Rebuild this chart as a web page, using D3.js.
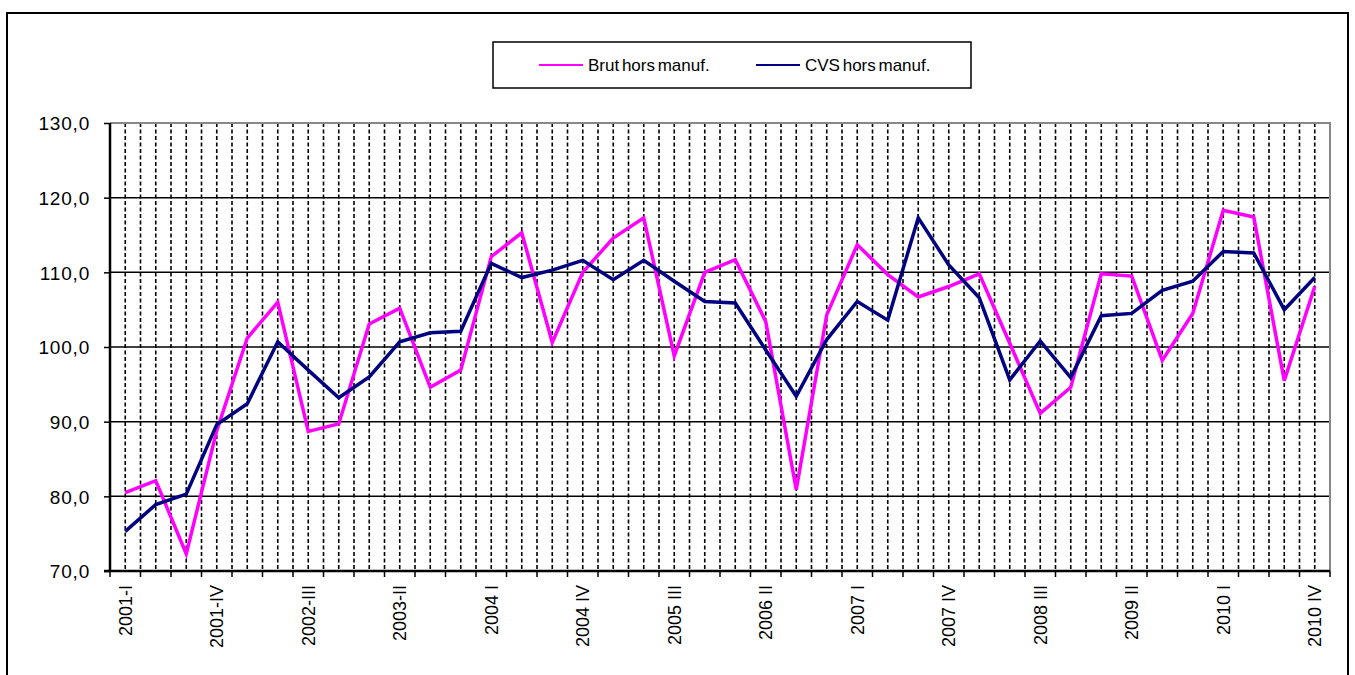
<!DOCTYPE html>
<html>
<head>
<meta charset="utf-8">
<script src="https://cdn.jsdelivr.net/npm/d3@7"></script>
<style>
  body { margin: 0; background: #fff; }
  text { font-family: "Liberation Sans", Arial, sans-serif; fill: #000; }
</style>
</head>
<body>
<div id="chart"></div>
<script>
// quarters, 2001-I .. 2010-IV
var quarters = [];
var romans = ["I", "II", "III", "IV"];
for (var yr = 2001; yr <= 2010; yr++) {
  for (var q = 0; q < 4; q++) quarters.push(yr + "-" + romans[q]);
}

// labels shown on the axis (every 3rd quarter), as written in the source
var tickLabels = ["2001-I", "2001-IV", "2002-III", "2003-II", "2004 I", "2004 IV", "2005 III",
  "2006 II", "2007 I", "2007 IV", "2008 III", "2009 II", "2010 I", "2010 IV"];

var brut = [80.5, 82.1, 72.3, 88.8, 101.2, 106.0, 88.7, 89.7, 103.1, 105.2,
  94.6, 96.9, 112.1, 115.3, 100.6, 110.0, 114.6, 117.3, 98.8, 110.0,
  111.7, 103.4, 80.9, 104.3, 113.7, 109.7, 106.7, 108.1, 109.8, 100.5,
  91.1, 94.6, 109.8, 109.5, 98.2, 104.5, 118.3, 117.4, 95.5, 108.1];

var cvs = [75.3, 78.9, 80.3, 89.6, 92.4, 100.7, 96.9, 93.2, 96.0, 100.7,
  101.9, 102.1, 111.2, 109.3, 110.3, 111.6, 109.0, 111.6, 108.8, 106.1,
  105.9, 99.6, 93.4, 101.0, 106.1, 103.6, 117.3, 111.0, 106.6, 95.6,
  100.8, 95.9, 104.2, 104.5, 107.6, 108.8, 112.8, 112.6, 105.0, 109.3];

var yTicks = [70, 80, 90, 100, 110, 120, 130];

var W = 1355, H = 675;
var margin = {left: 110, right: 25, top: 123, bottom: 104};
var width = W - margin.left - margin.right;
var height = H - margin.top - margin.bottom;

var svg = d3.select("#chart").append("svg")
  .attr("width", W).attr("height", H);

// outer frame
svg.append("rect")
  .attr("x", 7).attr("y", 13).attr("width", 1341).attr("height", 680)
  .attr("fill", "none").attr("stroke", "#000").attr("stroke-width", 2);

var g = svg.append("g")
  .attr("transform", "translate(" + margin.left + "," + margin.top + ")");

var x = d3.scaleBand().domain(quarters).range([0, width]).padding(0);
var bw = x.bandwidth();
var y = d3.scaleLinear().domain([70, 130]).range([height, 0]);

// vertical dashed gridlines: category centres and boundaries
var vLines = [];
quarters.forEach(function(d, i) {
  if (i > 0) vLines.push(x(d));
  vLines.push(x(d) + bw / 2);
});
g.selectAll(".vgrid").data(vLines).enter().append("line")
  .attr("x1", function(d) { return d; }).attr("x2", function(d) { return d; })
  .attr("y1", 0).attr("y2", height)
  .attr("stroke", "#000").attr("stroke-width", 1.6)
  .attr("stroke-dasharray", "4,2.5");

// horizontal gridlines
g.selectAll(".hgrid").data(yTicks.filter(function(d) { return d > 70 && d < 130; }))
  .enter().append("line")
  .attr("x1", 0).attr("x2", width)
  .attr("y1", function(d) { return y(d); }).attr("y2", function(d) { return y(d); })
  .attr("stroke", "#000").attr("stroke-width", 1.5);

// plot-area top and right border (grey)
g.append("path")
  .attr("d", "M0," + y(130) + "H" + width + "V" + height)
  .attr("fill", "none").attr("stroke", "#888").attr("stroke-width", 2);

// y axis
var yAxis = g.append("g")
  .call(d3.axisLeft(y).tickValues(yTicks).tickSize(6).tickPadding(14)
    .tickFormat(function(d) { return d3.format(".1f")(d).replace(".", ","); }));
yAxis.select(".domain").attr("stroke", "#000").attr("stroke-width", 2.5)
  .attr("d", "M0,0V" + height);
yAxis.selectAll(".tick line").attr("stroke", "#000").attr("stroke-width", 1.5);
yAxis.selectAll(".tick text")
  .style("font-family", "'Liberation Sans', Arial, sans-serif")
  .style("font-size", "19px").style("letter-spacing", "0.8px")
  .attr("dy", "0.36em");

// x axis line + ticks at boundaries
var xAxis = g.append("g").attr("transform", "translate(0," + height + ")");
xAxis.append("line").attr("x1", -6).attr("x2", width)
  .attr("stroke", "#000").attr("stroke-width", 2.5);
var bounds = quarters.map(function(d) { return x(d); }).concat([width]);
xAxis.selectAll(".xt").data(bounds).enter().append("line")
  .attr("x1", function(d) { return d; }).attr("x2", function(d) { return d; })
  .attr("y1", 0).attr("y2", 6)
  .attr("stroke", "#000").attr("stroke-width", 1.5);

var labelled = quarters.filter(function(d, i) { return i % 3 === 0; });
xAxis.selectAll(".xl").data(labelled).enter().append("text")
  .attr("transform", function(d) {
    return "translate(" + (x(d) + bw / 2) + ",14) rotate(-90)";
  })
  .attr("text-anchor", "end")
  .attr("dy", "0.36em")
  .style("font-size", "18px")
  .text(function(d, i) { return tickLabels[i]; });

// lines
var line = d3.line()
  .x(function(d, i) { return x(quarters[i]) + bw / 2; })
  .y(function(d) { return y(d); });

g.append("path").datum(brut)
  .attr("fill", "none").attr("stroke", "#ff00ff")
  .attr("stroke-width", 3.5).attr("stroke-linejoin", "miter")
  .attr("d", line);

g.append("path").datum(cvs)
  .attr("fill", "none").attr("stroke", "#000080")
  .attr("stroke-width", 3.5).attr("stroke-linejoin", "miter")
  .attr("d", line);

// legend
var legend = svg.append("g");
legend.append("rect")
  .attr("x", 493).attr("y", 42).attr("width", 478).attr("height", 46)
  .attr("fill", "#fff").attr("stroke", "#000").attr("stroke-width", 1.5);
var items = [
  {name: "Brut hors manuf.", color: "#ff00ff", x: 539},
  {name: "CVS hors manuf.", color: "#000080", x: 756}
];
items.forEach(function(it) {
  legend.append("line")
    .attr("x1", it.x).attr("x2", it.x + 44).attr("y1", 65).attr("y2", 65)
    .attr("stroke", it.color).attr("stroke-width", 2);
  legend.append("text")
    .attr("x", it.x + 49).attr("y", 65).attr("dy", "0.36em")
    .style("font-size", "17px").style("word-spacing", "-2px")
    .text(it.name);
});
</script>
</body>
</html>
